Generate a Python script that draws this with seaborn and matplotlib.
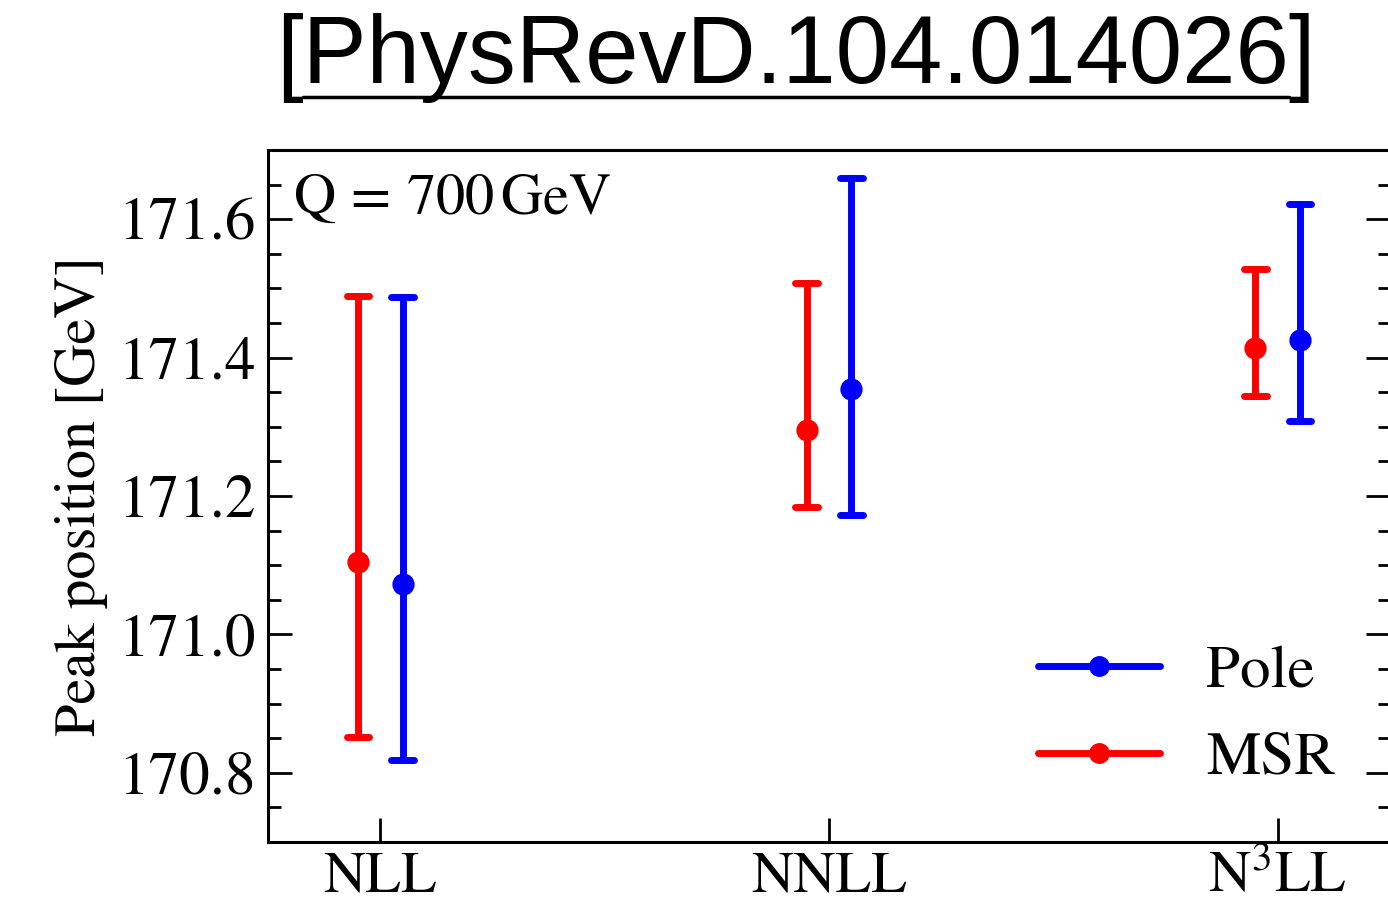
import numpy as np
import pandas as pd
import matplotlib
matplotlib.use("Agg")
import matplotlib.pyplot as plt
from matplotlib.lines import Line2D
from matplotlib.ticker import MultipleLocator
import seaborn as sns

orders = ["NLL", "NNLL", "N3LL"]
order_labels = ["NLL", "NNLL", r"N$^3$LL"]

msr_center = [171.105, 171.295, 171.414]
msr_low = [170.852, 171.184, 171.344]
msr_high = [171.489, 171.508, 171.528]

pole_center = [171.073, 171.354, 171.426]
pole_low = [170.819, 171.173, 171.308]
pole_high = [171.488, 171.659, 171.622]

rows = []
for scheme, lo, c, hi in [("MSR", msr_low, msr_center, msr_high),
                          ("Pole", pole_low, pole_center, pole_high)]:
    for i, o in enumerate(orders):
        for v in (lo[i], c[i], hi[i]):
            rows.append({"order": o, "scheme": scheme, "peak": v})
df = pd.DataFrame(rows)

sns.set_theme(style="ticks")
plt.rcParams["font.family"] = ["STIXGeneral", "DejaVu Serif"]
plt.rcParams["mathtext.fontset"] = "stix"
for k in ["text.color", "axes.labelcolor", "xtick.color", "ytick.color", "axes.edgecolor"]:
    plt.rcParams[k] = "black"

colors = {"MSR": "#ff0000", "Pole": "#0000ff"}

fig = plt.figure(figsize=(13.88, 9.02), dpi=100)
ax = fig.add_axes([268 / 1388, 60 / 902, 1122 / 1388, 692 / 902])

sns.pointplot(data=df, x="order", y="peak", hue="scheme", order=orders,
              hue_order=["MSR", "Pole"], palette=colors,
              estimator="median", errorbar=lambda v: (v.min(), v.max()),
              dodge=0.1, linestyle="none", marker="o", markersize=14,
              capsize=0.05, err_kws={"linewidth": 5},
              legend=False, ax=ax)

ax.set_xlim(-0.25, 2.25)
ax.set_ylim(170.7, 171.7)
ax.set_xticks(range(len(orders)))
ax.set_xticklabels(order_labels)
ax.yaxis.set_major_locator(MultipleLocator(0.2))
ax.yaxis.set_minor_locator(MultipleLocator(0.05))
ax.tick_params(which="both", direction="in", left=True, right=True,
               top=False, bottom=True, labelsize=44, width=2, color="black")
ax.tick_params(axis="x", labelsize=42)
ax.tick_params(which="major", length=17)
ax.tick_params(axis="y", which="major", pad=9)
ax.tick_params(axis="x", which="major", pad=7)
ax.tick_params(which="minor", length=9)
ax.tick_params(axis="x", which="minor", bottom=False)
for s in ax.spines.values():
    s.set_linewidth(2.2)
    s.set_color("black")
ax.set_xlabel("")
ax.set_ylabel("Peak position [GeV]", fontsize=42, labelpad=7)

ax.text(0.022, 0.965, r"$\mathrm{Q}\,=\,700\,\mathrm{GeV}$", transform=ax.transAxes,
        fontsize=42, va="top", ha="left")

handles = [Line2D([], [], color=colors["Pole"], lw=5, marker="o", markersize=14),
           Line2D([], [], color=colors["MSR"], lw=5, marker="o", markersize=14)]
ax.legend(handles, ["Pole", "MSR"], loc="lower right", frameon=False,
          fontsize=44, handlelength=2.0, handletextpad=0.75,
          labelspacing=0.5, bbox_to_anchor=(1.0, 0.0))

# title with underlined reference
title = fig.text(796 / 1388, 1 - 58 / 902, "[PhysRevD.104.014026]",
                 family=["Liberation Sans", "DejaVu Sans"], fontsize=69,
                 ha="center", va="center")
fig.canvas.draw()
r = fig.canvas.get_renderer()
bb = title.get_window_extent(r)
br = fig.text(0, 0, "[", family=["Liberation Sans"], fontsize=69)
wb = br.get_window_extent(r).width
br.remove()
x0 = (bb.x0 + wb) / 1388
x1 = (bb.x1 - wb) / 1388
fig.add_artist(Line2D([x0, x1], [1 - 97 / 902] * 2, color="black", lw=2.5,
                      transform=fig.transFigure))

fig.savefig("out.png", dpi=100)
